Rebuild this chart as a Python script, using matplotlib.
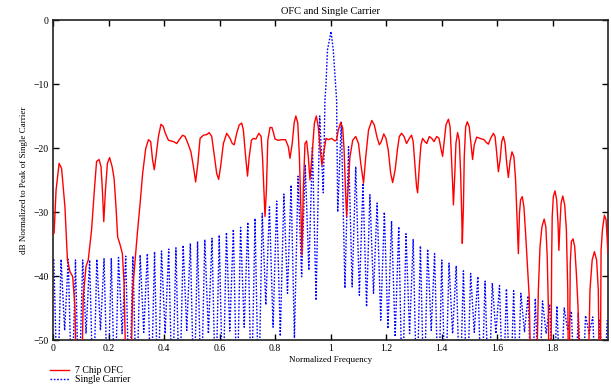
import numpy as np
import matplotlib
matplotlib.use("Agg")
import matplotlib.pyplot as plt

plt.rcParams['font.family'] = ['Liberation Serif', 'DejaVu Serif']
plt.rcParams['axes.unicode_minus'] = True

# 7 chip OFC spectrum (dB)
red_x = [0.000, 0.004, 0.011, 0.022, 0.031, 0.043, 0.052, 0.061, 0.071, 0.079, 0.086, 0.102,
         0.109, 0.119, 0.127, 0.139, 0.149, 0.157, 0.166, 0.173, 0.178, 0.183, 0.189, 0.196,
         0.204, 0.213, 0.220, 0.227, 0.233, 0.241, 0.250, 0.256, 0.265, 0.279, 0.287, 0.295,
         0.304, 0.314, 0.323, 0.334, 0.344, 0.352, 0.359, 0.365, 0.371, 0.380, 0.389, 0.397,
         0.404, 0.416, 0.434, 0.446, 0.455, 0.467, 0.476, 0.488, 0.497, 0.506, 0.514, 0.522,
         0.530, 0.542, 0.554, 0.563, 0.572, 0.582, 0.590, 0.597, 0.604, 0.614, 0.626, 0.638,
         0.646, 0.653, 0.662, 0.671, 0.680, 0.686, 0.693, 0.701, 0.707, 0.715, 0.722, 0.731,
         0.742, 0.750, 0.755, 0.760, 0.764, 0.769, 0.774, 0.782, 0.789, 0.795, 0.800, 0.812,
         0.824, 0.838, 0.848, 0.854, 0.862, 0.869, 0.875, 0.882, 0.888, 0.894, 0.897, 0.902,
         0.908, 0.914, 0.920, 0.926, 0.933, 0.942, 0.949, 0.956, 0.962, 0.969, 0.977, 0.984,
         0.992, 1.004, 1.016, 1.022, 1.028, 1.037, 1.044, 1.049, 1.054, 1.058, 1.063, 1.070,
         1.080, 1.091, 1.101, 1.109, 1.119, 1.127, 1.137, 1.149, 1.158, 1.167, 1.176, 1.183,
         1.192, 1.200, 1.208, 1.217, 1.224, 1.233, 1.241, 1.248, 1.256, 1.265, 1.274, 1.284,
         1.292, 1.298, 1.304, 1.310, 1.314, 1.320, 1.326, 1.332, 1.340, 1.347, 1.356, 1.365,
         1.373, 1.383, 1.391, 1.399, 1.404, 1.410, 1.416, 1.425, 1.431, 1.436, 1.440, 1.443,
         1.448, 1.452, 1.458, 1.464, 1.469, 1.473, 1.475, 1.479, 1.482, 1.487, 1.493, 1.500,
         1.506, 1.512, 1.518, 1.527, 1.539, 1.553, 1.563, 1.569, 1.577, 1.587, 1.593, 1.599,
         1.605, 1.611, 1.617, 1.623, 1.629, 1.635, 1.641, 1.647, 1.654, 1.661, 1.667, 1.673,
         1.677, 1.681, 1.685, 1.691, 1.697, 1.703, 1.710, 1.716, 1.724, 1.741, 1.749, 1.755,
         1.762, 1.770, 1.776, 1.781, 1.785, 1.788, 1.794, 1.797, 1.799, 1.803, 1.809, 1.815,
         1.820, 1.823, 1.827, 1.831, 1.837, 1.844, 1.850, 1.855, 1.858, 1.860, 1.864, 1.868,
         1.874, 1.880, 1.886, 1.892, 1.899, 1.927, 1.935, 1.943, 1.951, 1.959, 1.965, 1.970,
         1.972, 1.975, 1.980, 1.987, 1.993, 2.000]
red_db = [-33.5, -33.3, -26.6, -22.4, -23.2, -29.2, -37.5, -39.3, -40.1, -44.8, -60, -60,
          -43.2, -38.5, -37.5, -32.8, -26.6, -22.1, -21.8, -22.9, -26.6, -31.5, -26.6, -22.4,
          -21.5, -22.9, -24.7, -29.2, -33.9, -35.0, -36.5, -41.1, -60, -60, -42.2, -38.0,
          -33.3, -28.6, -24.0, -20.1, -18.7, -19.0, -21.9, -23.4, -21.4, -18.2, -16.3, -16.6,
          -17.6, -18.8, -19.0, -19.3, -18.7, -18.0, -18.2, -19.5, -20.6, -22.9, -25.3, -22.4,
          -18.5, -18.0, -17.9, -17.6, -18.2, -21.4, -24.0, -24.9, -22.9, -19.3, -17.7, -18.5,
          -19.3, -19.5, -17.7, -16.4, -16.1, -17.2, -20.8, -24.4, -21.4, -18.8, -18.5, -18.6,
          -17.7, -18.2, -21.4, -26.6, -30.7, -26.6, -18.8, -16.8, -16.8, -17.7, -18.6, -18.8,
          -18.7, -18.7, -19.8, -21.6, -19.3, -16.1, -15.0, -16.1, -21.4, -30.7, -36.7, -26.6,
          -19.3, -18.9, -21.4, -25.0, -21.4, -16.1, -15.0, -16.7, -19.8, -22.7, -20.3, -18.5,
          -18.7, -18.5, -18.9, -18.7, -17.2, -16.0, -16.9, -20.3, -26.6, -30.7, -26.6, -21.4,
          -18.8, -18.2, -19.3, -22.4, -25.5, -21.4, -17.2, -15.7, -16.4, -18.2, -19.5, -19.0,
          -17.8, -18.5, -20.3, -24.0, -25.4, -23.4, -20.3, -18.2, -17.7, -18.2, -19.3, -18.5,
          -18.0, -19.0, -22.4, -26.0, -27.0, -22.9, -19.5, -18.5, -19.0, -19.3, -18.2, -18.5,
          -19.0, -18.2, -18.5, -20.3, -21.3, -18.8, -16.4, -15.5, -16.7, -21.4, -25.5, -28.9,
          -24.0, -19.3, -17.6, -18.8, -24.0, -30.7, -34.9, -29.2, -21.4, -16.7, -15.9, -16.7,
          -19.3, -21.8, -19.5, -18.3, -18.5, -18.7, -19.2, -19.4, -18.5, -17.7, -18.2, -20.8,
          -23.7, -21.9, -19.0, -18.2, -19.3, -22.4, -24.6, -22.1, -20.6, -21.4, -25.0, -31.8,
          -36.5, -30.2, -28.1, -27.6, -29.2, -33.3, -38.5, -43.2, -60, -60, -42.2, -35.4,
          -32.3, -31.1, -32.3, -37.0, -44.8, -60, -60, -37.0, -30.7, -27.6, -26.7, -28.1,
          -31.8, -36.0, -31.8, -28.6, -27.5, -28.9, -32.8, -42.2, -60, -60, -38.0, -34.6,
          -34.2, -35.4, -39.6, -44.8, -60, -60, -42.2, -37.5, -36.2, -37.5, -42.2, -60,
          -60, -36.0, -32.8, -30.5, -31.2, -36.5]

# single carrier: sidelobe peaks, nulls and main lobe
sc_peak_x = [0.003, 0.029, 0.055, 0.081, 0.107, 0.132, 0.158, 0.184, 0.210, 0.236,
             0.262, 0.288, 0.314, 0.340, 0.366, 0.391, 0.417, 0.443, 0.469, 0.495,
             0.521, 0.547, 0.573, 0.599, 0.625, 0.650, 0.676, 0.702, 0.728, 0.754,
             0.780, 0.806, 0.832, 0.858, 0.883, 0.909, 0.935, 0.961,
             1.039, 1.065, 1.091, 1.117, 1.142, 1.168, 1.194, 1.220, 1.246, 1.272,
             1.298, 1.324, 1.350, 1.375, 1.401, 1.427, 1.453, 1.479, 1.505, 1.531,
             1.557, 1.583, 1.609, 1.634, 1.660, 1.686, 1.712, 1.738, 1.764, 1.790,
             1.816, 1.842, 1.868, 1.893, 1.919, 1.945, 1.971, 1.997]
sc_peak_db = [-37.4, -37.4, -37.4, -37.5, -37.5, -37.5, -37.4, -37.3, -37.2, -37.1,
              -36.9, -36.9, -36.7, -36.5, -36.2, -36.1, -35.8, -35.6, -35.2, -34.9,
              -34.6, -34.3, -34.1, -33.6, -33.2, -32.7, -32.4, -31.6, -31.0, -30.2,
              -29.2, -28.3, -27.2, -25.8, -24.4, -22.6, -19.8, -15.0,
              -15.9, -19.8, -22.9, -25.5, -27.3, -28.6, -30.0, -31.4, -32.3, -33.4,
              -34.3, -35.3, -35.8, -36.5, -37.5, -38.0, -38.4, -39.2, -39.6, -40.1,
              -40.8, -41.1, -41.5, -42.0, -42.3, -42.7, -43.1, -43.5, -43.9, -44.4,
              -44.7, -45.0, -45.5, -45.8, -46.2, -46.4, -46.7, -46.9]
sc_null_x = [0.016, 0.042, 0.068, 0.093, 0.119, 0.145, 0.171, 0.197, 0.223, 0.249,
             0.275, 0.301, 0.327, 0.353, 0.378, 0.404, 0.430, 0.456, 0.482, 0.508,
             0.534, 0.560, 0.586, 0.612, 0.637, 0.663, 0.689, 0.715, 0.741, 0.767,
             0.793, 0.819, 0.845, 0.870, 0.896, 0.922, 0.948, 0.974,
             1.026, 1.052, 1.078, 1.104, 1.130, 1.155, 1.181, 1.207, 1.233, 1.259,
             1.285, 1.311, 1.337, 1.363, 1.389, 1.414, 1.440, 1.466, 1.492, 1.518,
             1.544, 1.570, 1.596, 1.622, 1.648, 1.673, 1.699, 1.725, 1.751, 1.777,
             1.803, 1.829, 1.855, 1.881, 1.907, 1.932, 1.958, 1.984]
sc_null_db = [-60, -48.5, -60, -60, -49, -60, -48.5, -60, -60, -49,
              -60, -60, -48.8, -60, -60, -49, -60, -60, -48.5, -60,
              -60, -49, -60, -60, -48.6, -60, -48, -60, -60, -44.5,
              -48, -49.4, -42.7, -49.7, -40.1, -39.1, -43.8, -27,
              -30, -41.9, -41.7, -43.0, -44.8, -42.7, -46.9, -48.2, -49.5, -60,
              -49, -60, -60, -48.5, -60, -60, -49, -60, -60, -48.8,
              -60, -60, -49, -60, -60, -60, -48.7, -60, -60, -49,
              -60, -60, -48.5, -60, -60, -49, -60, -60]
main_x = [0.980, 0.984, 0.989, 1.002, 1.010, 1.018, 1.022]
main_db = [-12.5, -9.9, -4.7, -1.8, -4.7, -9.9, -12.5]

x_ticks = [0, 0.2, 0.4, 0.6, 0.8, 1, 1.2, 1.4, 1.6, 1.8]
x_ticklabels = ['0', '0.2', '0.4', '0.6', '0.8', '1', '1.2', '1.4', '1.6', '1.8']
y_ticks = [0, -10, -20, -30, -40, -50]

sc_x = np.concatenate([sc_peak_x, sc_null_x, main_x])
sc_db = np.concatenate([sc_peak_db, sc_null_db, main_db])
order = np.argsort(sc_x)
sc_x = sc_x[order]
sc_db = sc_db[order]

fig = plt.figure(figsize=(6.11, 3.87), dpi=100)
ax = fig.add_axes([53 / 611, 1 - 340 / 387, 555 / 611, 320 / 387])

l1, = ax.plot(red_x, red_db, color='#ff0000', lw=1.0, label='7 Chip OFC', zorder=3)
l2, = ax.plot(sc_x, sc_db, color='#0000ff', lw=1.0, linestyle=(0, (1.2, 1.2)),
              label='Single Carrier', zorder=2)

ax.set_xlim(0, 2)
ax.set_ylim(-50, 0)
ax.set_xticks(x_ticks)
ax.set_xticklabels(x_ticklabels)
ax.set_yticks(y_ticks)
ax.tick_params(direction='in', length=4, width=1, labelsize=7, top=True, right=True,
               labeltop=False, labelright=False, pad=3)
for s in ax.spines.values():
    s.set_linewidth(1.2)
    s.set_color('#222222')

ax.set_title('OFC and Single Carrier', fontsize=7.5, pad=4)
ax.set_xlabel('Normalized Frequency', fontsize=6.5, labelpad=2)
ax.set_ylabel('dB Normalized to Peak of Single Carrier', fontsize=6.5, labelpad=4)

fig.legend(handles=[l1, l2], loc='upper left', bbox_to_anchor=(50 / 611, 1 - 366 / 387),
           frameon=False, fontsize=7, handlelength=2.0, handletextpad=0.6,
           labelspacing=0.05, borderpad=0, borderaxespad=0)

fig.savefig('out.png', dpi=100)
